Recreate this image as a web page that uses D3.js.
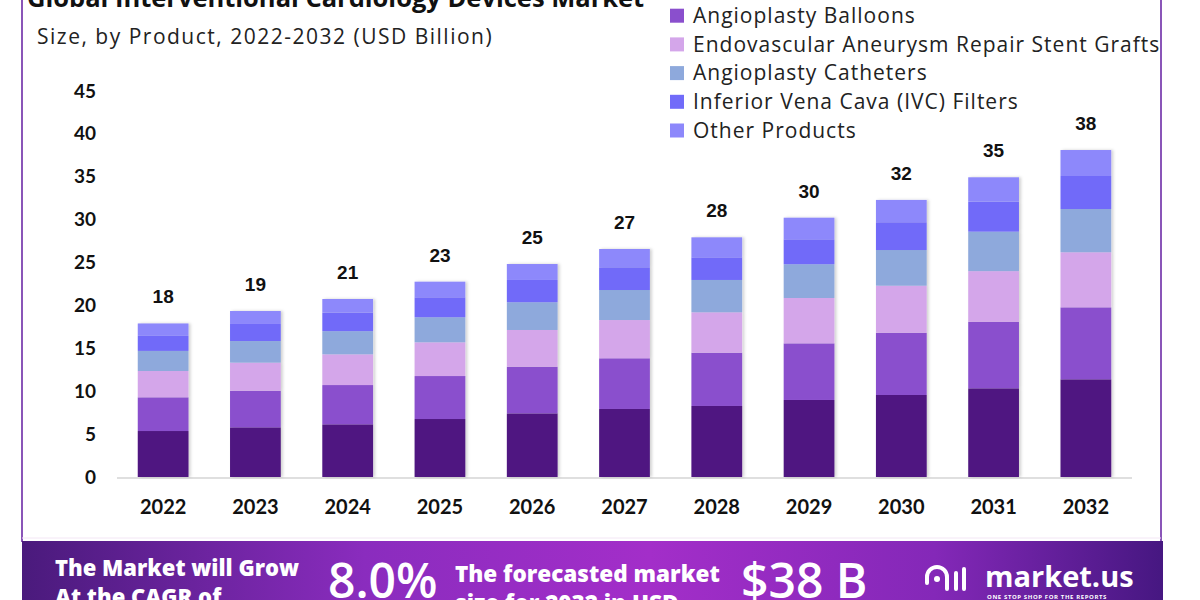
<!DOCTYPE html>
<html>
<head>
<meta charset="utf-8">
<title>Interventional Cardiology Devices Market</title>
<style>
  body { margin: 0; background: #fff; }
  svg { display: block; }
  .tick text { font-family: Lato, sans-serif; font-weight: bold; fill: #111; }
  .legend text { font-family: "Open Sans", sans-serif; font-size: 21px; letter-spacing: 1px; fill: #222; }
  .banner text { fill: #fff; font-family: "Open Sans", sans-serif; }
</style>
</head>
<body>
<script src="https://cdnjs.cloudflare.com/ajax/libs/d3/7.8.5/d3.min.js"></script>
<script>
// chart data, USD billion
var years = ["2022","2023","2024","2025","2026","2027","2028","2029","2030","2031","2032"];
var seriesNames = ["Angioplasty Stents","Angioplasty Balloons","Endovascular Aneurysm Repair Stent Grafts","Angioplasty Catheters","Inferior Vena Cava (IVC) Filters","Other Products"];
var stents    = [5.36, 5.79, 6.14, 6.76, 7.42, 7.93, 8.28, 8.98, 9.56, 10.34, 11.39];
var balloons  = [3.93, 4.27, 4.58, 5.01, 5.44, 5.91, 6.21, 6.60, 7.26, 7.76, 8.39];
var evar      = [3.07, 3.27, 3.58, 3.93, 4.28, 4.46, 4.71, 5.29, 5.48, 5.90, 6.42];
var catheters = [2.34, 2.52, 2.70, 2.92, 3.23, 3.50, 3.77, 3.93, 4.16, 4.60, 5.04];
var ivc       = [1.75, 1.99, 2.15, 2.33, 2.60, 2.65, 2.64, 2.91, 3.24, 3.50, 3.85];
var other     = [1.45, 1.51, 1.60, 1.82, 1.86, 2.13, 2.33, 2.52, 2.60, 2.84, 3.03];
var totals    = ["18","19","21","23","25","27","28","30","32","35","38"];
var yTicks    = [0, 5, 10, 15, 20, 25, 30, 35, 40, 45];

var colors = ["#4f1781", "#8a4fcd", "#d4a6ea", "#8ea9dc", "#716bf9", "#8d88fb"];

var W = 1200, H = 600;
var plot = {left: 117, right: 1132, top: 91, bottom: 477};

var svg = d3.select("body").append("svg")
  .attr("width", W)
  .attr("height", H);

// table for the stack
var allSeries = [stents, balloons, evar, catheters, ivc, other];
var rows = years.map(function(y, i) {
  var r = {year: y};
  seriesNames.forEach(function(n, k) { r[n] = allSeries[k][i]; });
  return r;
});
var stacked = d3.stack().keys(seriesNames)(rows);

var x = d3.scaleBand().domain(years).range([plot.left, plot.right])
  .paddingInner(0.45).paddingOuter(0.225);
var y = d3.scaleLinear().domain([0, 45]).range([plot.bottom, plot.top]);

// frame lines
svg.append("line").attr("x1", 22).attr("x2", 22).attr("y1", 0).attr("y2", 542)
  .attr("stroke", "#8a55b8").attr("stroke-width", 2);
svg.append("line").attr("x1", 1161).attr("x2", 1161).attr("y1", 0).attr("y2", 542)
  .attr("stroke", "#8a55b8").attr("stroke-width", 2);
svg.append("line").attr("x1", 22).attr("x2", 1161).attr("y1", 538).attr("y2", 538)
  .attr("stroke", "#f3e6f5").attr("stroke-width", 1);

// titles (top is cut off in the original)
svg.append("text")
  .attr("x", 27).attr("y", 7)
  .style("font-family", "'Open Sans', sans-serif")
  .style("font-weight", "bold")
  .style("font-size", "25.5px")
  .attr("fill", "#111")
  .text("Global Interventional Cardiology Devices Market");
svg.append("text")
  .attr("x", 37).attr("y", 44)
  .style("font-family", "'Open Sans', sans-serif")
  .style("font-size", "21px")
  .style("letter-spacing", "1.5px")
  .attr("fill", "#222")
  .text("Size, by Product, 2022-2032 (USD Billion)");

// y axis, labels only
var yAxis = svg.append("g")
  .attr("transform", "translate(96,0)")
  .call(d3.axisLeft(y).tickValues(yTicks).tickSize(0).tickPadding(0));
yAxis.select(".domain").remove();
yAxis.selectAll("text").style("font-size", "19px");

// baseline + x axis
svg.append("line")
  .attr("x1", plot.left).attr("x2", plot.right)
  .attr("y1", y(0) + 1).attr("y2", y(0) + 1)
  .attr("stroke", "#d4d4d4").attr("stroke-width", 1.5);
var xAxis = svg.append("g")
  .attr("transform", "translate(0," + (y(0) + 23) + ")")
  .call(d3.axisBottom(x).tickSize(0).tickPadding(0));
xAxis.select(".domain").remove();
xAxis.selectAll("text").style("font-size", "20px").attr("dy", "0.71em");

// bar shadow
var defs = svg.append("defs");
var f = defs.append("filter").attr("id", "shadow")
  .attr("x", "-10%").attr("y", "-5%").attr("width", "130%").attr("height", "110%");
f.append("feDropShadow").attr("dx", 2).attr("dy", 0).attr("stdDeviation", 1.5)
  .attr("flood-color", "#000").attr("flood-opacity", 0.18);

// stacked bars
var layers = svg.append("g").attr("filter", "url(#shadow)")
  .selectAll("g")
  .data(stacked)
  .enter().append("g")
  .attr("fill", function(d, i) { return colors[i]; });

layers.selectAll("rect")
  .data(function(d) { return d; })
  .enter().append("rect")
  .attr("x", function(d) { return x(d.data.year); })
  .attr("width", x.bandwidth())
  .attr("y", function(d) { return y(d[1]); })
  .attr("height", function(d) { return y(d[0]) - y(d[1]); });

// total labels
var topLayer = stacked[stacked.length - 1];
svg.selectAll(".total")
  .data(topLayer)
  .enter().append("text")
  .attr("class", "total")
  .attr("x", function(d) { return x(d.data.year) + x.bandwidth() / 2; })
  .attr("y", function(d) { return y(d[1]) - 20; })
  .attr("text-anchor", "middle")
  .style("font-family", "'Liberation Sans', Arial, sans-serif")
  .style("font-weight", "bold")
  .style("font-size", "19px")
  .attr("fill", "#111")
  .text(function(d, i) { return totals[i]; });

// legend (first row cut off at top)
var legend = svg.append("g").attr("class", "legend")
  .selectAll("g")
  .data(seriesNames)
  .enter().append("g")
  .attr("transform", function(d, i) { return "translate(670," + (-13 + i * 28.7) + ")"; });
legend.append("rect")
  .attr("x", 0).attr("y", -7).attr("width", 14).attr("height", 14)
  .attr("fill", function(d, i) { return colors[i]; });
legend.append("text")
  .attr("x", 23).attr("y", 0).attr("dy", "0.35em")
  .text(function(d) { return d; });

// bottom banner
var grad = defs.append("linearGradient").attr("id", "band");
grad.append("stop").attr("offset", "0%").attr("stop-color", "#4a1a7c");
grad.append("stop").attr("offset", "30%").attr("stop-color", "#8a2cbe");
grad.append("stop").attr("offset", "55%").attr("stop-color", "#a32ec9");
grad.append("stop").attr("offset", "80%").attr("stop-color", "#8428b8");
grad.append("stop").attr("offset", "100%").attr("stop-color", "#461781");

var banner = svg.append("g").attr("class", "banner");
banner.append("rect")
  .attr("x", 22).attr("y", 541).attr("width", 1141).attr("height", 59)
  .attr("fill", "url(#band)");
banner.append("text").attr("x", 55).attr("y", 576)
  .style("font-weight", "800").style("font-size", "22px")
  .text("The Market will Grow");
banner.append("text").attr("x", 55).attr("y", 605)
  .style("font-weight", "800").style("font-size", "22px")
  .text("At the CAGR of");
banner.append("text").attr("x", 328).attr("y", 598)
  .style("font-size", "48px").style("font-weight", "600")
  .text("8.0%");
banner.append("text").attr("x", 455).attr("y", 582)
  .style("font-weight", "800").style("font-size", "22.5px")
  .text("The forecasted market");
banner.append("text").attr("x", 455).attr("y", 611)
  .style("font-weight", "800").style("font-size", "22.5px")
  .text("size for 2032 in USD");
banner.append("text").attr("x", 741).attr("y", 598)
  .style("font-size", "48px").style("font-weight", "600")
  .text("$38 B");

// logo
var logo = banner.append("g").attr("transform", "translate(925,565)");
logo.append("path")
  .attr("d", "M2,18 L2,12 A10,10 0 0 1 22,12 L22,24")
  .attr("fill", "none").attr("stroke", "#fff").attr("stroke-width", 4).attr("stroke-linecap", "round");
logo.append("circle").attr("cx", 12).attr("cy", 14).attr("r", 3).attr("fill", "#fff");
logo.append("line").attr("x1", 31).attr("x2", 31).attr("y1", 8).attr("y2", 24)
  .attr("stroke", "#fff").attr("stroke-width", 4).attr("stroke-linecap", "round");
logo.append("line").attr("x1", 39).attr("x2", 39).attr("y1", 4).attr("y2", 24)
  .attr("stroke", "#fff").attr("stroke-width", 4).attr("stroke-linecap", "round");
banner.append("text").attr("x", 985).attr("y", 587)
  .style("font-weight", "bold").style("font-size", "29px")
  .text("market.us");
banner.append("text").attr("x", 987).attr("y", 599)
  .style("font-weight", "bold").style("font-size", "6px").style("letter-spacing", "0.6px")
  .text("ONE STOP SHOP FOR THE REPORTS");
</script>
</body>
</html>
